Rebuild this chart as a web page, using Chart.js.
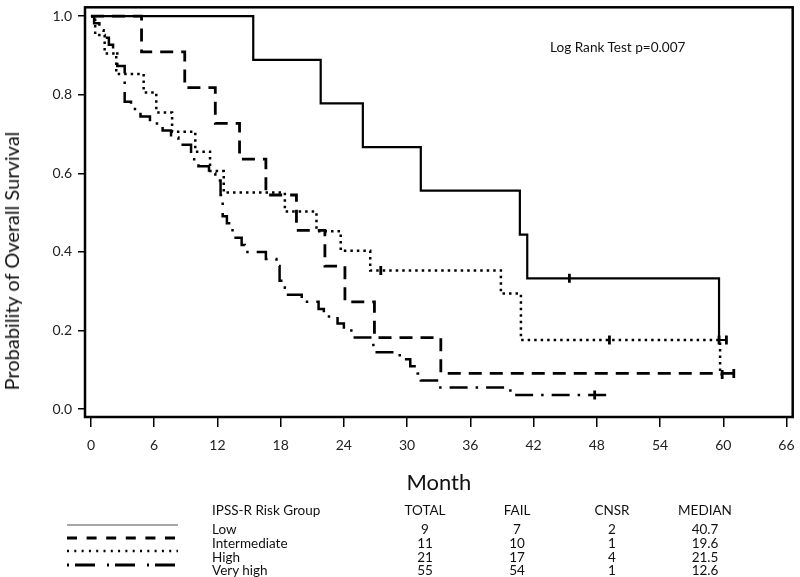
<!DOCTYPE html>
<html>
<head>
<meta charset="utf-8">
<script src="https://cdn.jsdelivr.net/npm/chart.js@4.4.1/dist/chart.umd.min.js"></script>
<style>
  html, body { margin: 0; padding: 0; background: #fff; }
  #wrap { position: relative; width: 800px; height: 577px; font-family: Lato, sans-serif; color: #111; }
  #km { position: absolute; left: 0; top: 0; }
  .ylab { position: absolute; left: 11px; top: 261px; transform: translate(-50%, -50%) rotate(-90deg);
          white-space: nowrap; font-size: 20px; }
  .note { position: absolute; left: 550px; top: 39px; font-size: 13.6px; white-space: nowrap; }
  .cell { position: absolute; font-size: 13.5px; line-height: 14px; white-space: nowrap; transform: translateY(-50%); }
  .num { transform: translate(-50%, -50%); }
  #keys { position: absolute; left: 0; top: 0; }
</style>
</head>
<body>
<div id="wrap">
  <canvas id="km" width="800" height="577"></canvas>
  <div class="ylab">Probability of Overall Survival</div>
  <div class="note">Log Rank Test p=0.007</div>
  <svg id="keys" width="800" height="577"></svg>
</div>
<script>
// Kaplan-Meier steps: month of each drop, survival after it
const lowMonths  = [0, 15.4, 21.8, 25.8, 31.3, 40.7, 41.4, 59.6, 60.3];
const lowSurv    = [1, 0.889, 0.778, 0.667, 0.556, 0.444, 0.333, 0.176, 0.176];
const intMonths  = [0, 4.8, 8.9, 11.8, 14.1, 16.6, 19.5, 22.2, 24.1, 26.9, 33.2, 61.0];
const intSurv    = [1, 0.909, 0.818, 0.727, 0.636, 0.545, 0.455, 0.364, 0.273, 0.182, 0.091, 0.091];
const highMonths = [0, 0.4, 1.3, 2.4, 5.0, 6.2, 7.7, 9.9, 11.3, 12.6, 18.4, 21.4, 23.7, 26.5, 38.9, 40.8, 59.7, 59.9];
const highSurv   = [1, 0.952, 0.905, 0.853, 0.806, 0.755, 0.706, 0.655, 0.606, 0.551, 0.503, 0.453, 0.403, 0.353, 0.294, 0.176, 0.088, 0.088];
const vhMonths   = [0, 0.3, 0.8, 1.2, 1.7, 2.1, 2.5, 3.2, 3.8, 4.7, 5.6, 6.8, 7.6, 8.3, 9.5, 10.2, 11.2, 11.8,
                    12.3, 12.5, 12.9, 13.3, 13.6, 14.3, 14.6, 16.6, 17.6, 17.9, 18.4, 18.7, 20.0, 21.6, 22.1,
                    23.4, 24.0, 24.9, 26.8, 29.3, 30.3, 31.0, 31.3, 33.0, 39.8, 48.9];
const vhSurv     = [1, 0.982, 0.964, 0.945, 0.927, 0.909, 0.873, 0.782, 0.764, 0.745, 0.727, 0.709, 0.691, 0.673,
                    0.636, 0.618, 0.600, 0.582, 0.545, 0.491, 0.473, 0.455, 0.436, 0.418, 0.400, 0.382, 0.364,
                    0.327, 0.309, 0.291, 0.273, 0.255, 0.236, 0.218, 0.200, 0.182, 0.145, 0.127, 0.109, 0.091,
                    0.073, 0.055, 0.036, 0.018];

// censored observations (month, survival)
const lowCensor  = [[45.4, 0.333], [60.3, 0.176]];
const intCensor  = [[61.0, 0.091]];
const highCensor = [[27.5, 0.353], [49.2, 0.176], [59.6, 0.176], [59.9, 0.088]];
const vhCensor   = [[47.8, 0.036]];

const monthTicks = [0, 6, 12, 18, 24, 30, 36, 42, 48, 54, 60, 66];
const survTicks  = [0, 0.2, 0.4, 0.6, 0.8, 1.0];

// risk table
const groups  = ['Low', 'Intermediate', 'High', 'Very high'];
const totals  = [9, 11, 21, 55];
const fails   = [7, 10, 17, 54];
const cnsr    = [2, 1, 4, 1];
const medians = ['40.7', '19.6', '21.5', '12.6'];

const dashLow  = [];
const dashInt  = [13, 8];
const dashHigh = [2.5, 4];
const dashVh   = [18, 8, 2.5, 8];

function toPoints(months, surv) {
    return months.map((m, i) => ({ x: m, y: surv[i] }));
}
function censorPoints(list) {
    return list.map(p => ({ x: p[0], y: p[1] }));
}

function curve(label, months, surv, dash, width) {
    return {
        label: label,
        data: toPoints(months, surv),
        borderColor: '#000',
        borderWidth: width,
        borderDash: dash,
        stepped: 'before',
        pointRadius: 0,
        fill: false
    };
}
function ticksSet(list) {
    return {
        type: 'scatter',
        data: censorPoints(list),
        pointStyle: 'line',
        rotation: 90,
        pointRadius: 4.5,
        pointBorderWidth: 2.8,
        borderColor: '#000',
        backgroundColor: '#000'
    };
}

// frame around the plot area
const framePlugin = {
    id: 'frame',
    afterDatasetsDraw(chart) {
        const a = chart.chartArea;
        const ctx = chart.ctx;
        ctx.save();
        ctx.strokeStyle = '#000';
        ctx.lineWidth = 2.5;
        ctx.strokeRect(a.left, a.top, a.right - a.left, a.bottom - a.top);
        ctx.restore();
    }
};

const tickFont = { family: 'Lato', size: 14 };

new Chart(document.getElementById('km').getContext('2d'), {
    type: 'line',
    data: {
        datasets: [
            curve('Low', lowMonths, lowSurv, dashLow, 2.2),
            curve('Intermediate', intMonths, intSurv, dashInt, 2.8),
            curve('High', highMonths, highSurv, dashHigh, 2.5),
            curve('Very high', vhMonths, vhSurv, dashVh, 2.5),
            ticksSet(lowCensor),
            ticksSet(intCensor),
            ticksSet(highCensor),
            ticksSet(vhCensor)
        ]
    },
    options: {
        responsive: false,
        animation: false,
        layout: { padding: { left: 0, top: 1, right: 2, bottom: 0 } },
        plugins: {
            legend: { display: false },
            tooltip: { enabled: false }
        },
        scales: {
            x: {
                type: 'linear',
                min: -0.565,
                max: 66.59,
                afterBuildTicks: s => { s.ticks = monthTicks.map(v => ({ value: v })); },
                afterFit: s => { s.height = 160; s.paddingLeft = 0; s.paddingRight = 0; },
                border: { display: false },
                grid: { drawOnChartArea: false, drawTicks: true, tickLength: 10, color: '#000', lineWidth: 1.5 },
                ticks: { padding: 10, font: tickFont, color: '#222', autoSkip: false, maxRotation: 0 },
                title: {
                    display: true,
                    text: 'Month',
                    font: { family: 'Lato', size: 22 },
                    color: '#111',
                    padding: { top: 0, bottom: 81 }
                }
            },
            y: {
                type: 'linear',
                min: -0.020,
                max: 1.0226,
                afterBuildTicks: s => { s.ticks = survTicks.map(v => ({ value: v })); },
                afterFit: s => { s.width = 85; s.paddingTop = 0; s.paddingBottom = 0; },
                border: { display: false },
                grid: { drawOnChartArea: false, drawTicks: true, tickLength: 7, color: '#000', lineWidth: 1.5 },
                ticks: { padding: 6, font: tickFont, color: '#222', callback: v => v.toFixed(1) }
            }
        }
    },
    plugins: [framePlugin]
});

// risk table below the plot
const wrap = document.getElementById('wrap');
function cell(text, x, y, centered) {
    const d = document.createElement('div');
    d.className = centered ? 'cell num' : 'cell';
    d.textContent = text;
    d.style.left = x + 'px';
    d.style.top = y + 'px';
    wrap.appendChild(d);
}
const rowY = [529, 543, 557, 570];
cell('IPSS-R Risk Group', 212, 510, false);
cell('TOTAL', 425, 510, true);
cell('FAIL', 517, 510, true);
cell('CNSR', 612, 510, true);
cell('MEDIAN', 705, 510, true);
groups.forEach((g, i) => {
    cell(g, 212, rowY[i], false);
    cell(String(totals[i]), 425, rowY[i], true);
    cell(String(fails[i]), 517, rowY[i], true);
    cell(String(cnsr[i]), 612, rowY[i], true);
    cell(medians[i], 705, rowY[i], true);
});

// line style keys
const keyY = [525, 538, 551, 565];
const keyDash = ['', '10 9.6', '2 5.3', '2 6 20 12'];
const keyColor = ['#888', '#000', '#000', '#000'];
const keyWidth = [1.5, 2.8, 2.5, 2.8];
const svg = document.getElementById('keys');
keyY.forEach((y, i) => {
    const l = document.createElementNS('http://www.w3.org/2000/svg', 'line');
    l.setAttribute('x1', 67);
    l.setAttribute('x2', 178);
    l.setAttribute('y1', y);
    l.setAttribute('y2', y);
    l.setAttribute('stroke', keyColor[i]);
    l.setAttribute('stroke-width', keyWidth[i]);
    if (keyDash[i]) l.setAttribute('stroke-dasharray', keyDash[i]);
    svg.appendChild(l);
});
</script>
</body>
</html>
